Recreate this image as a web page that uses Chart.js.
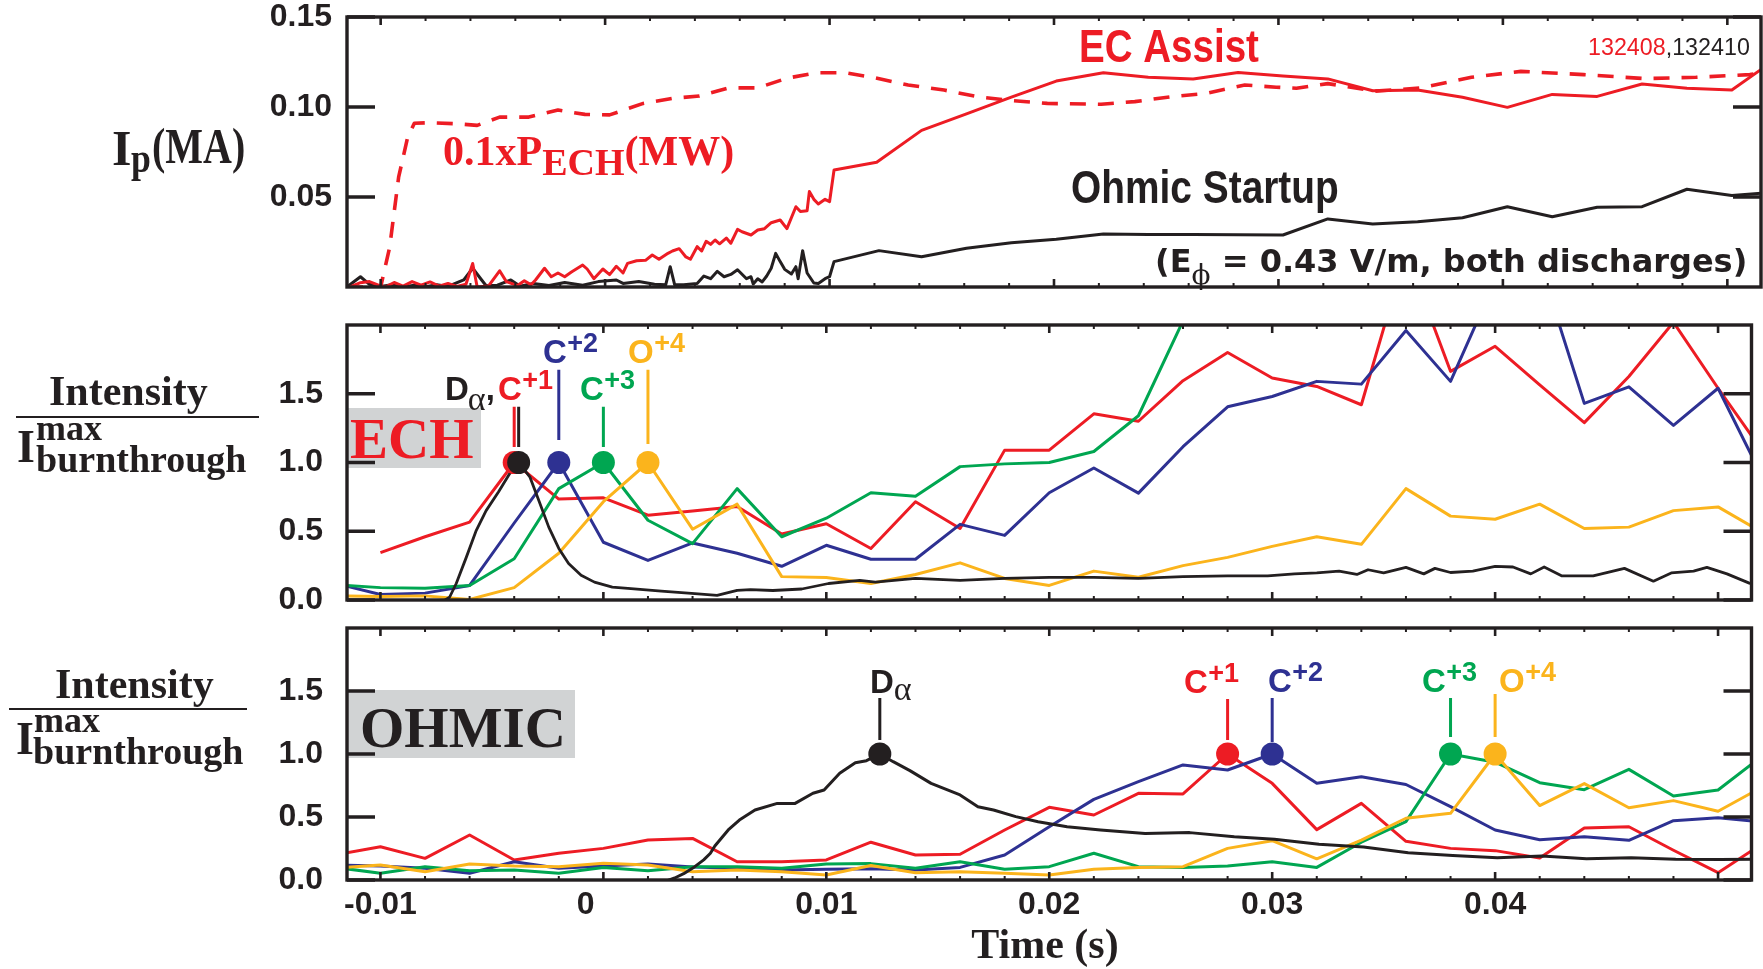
<!DOCTYPE html>
<html>
<head>
<meta charset="utf-8">
<script src="https://cdn.jsdelivr.net/npm/chart.js@4.4.1/dist/chart.umd.min.js"></script>
<style>
  html, body { margin: 0; padding: 0; background: #fff; }
  #wrap { position: relative; width: 1763px; height: 969px; overflow: hidden; background: #fff; }
  #wrap canvas { position: absolute; left: 0; top: 0; }
</style>
</head>
<body>
<div id="wrap">
  <canvas id="cIp" width="1763" height="969"></canvas>
  <canvas id="cEch" width="1763" height="969"></canvas>
  <canvas id="cOhm" width="1763" height="969"></canvas>
</div>
<script>
// ---------------- time axis ----------------
const X_MIN = -0.0115, X_MAX = 0.0515;
const xMajorTicks = [-0.01, 0.00, 0.01, 0.02, 0.03, 0.04, 0.05];
const xTickLabels = ['-0.01', '0', '0.01', '0.02', '0.03', '0.04', ''];

// ---------------- top panel: plasma current (MA) and 0.1 x P_ECH (MW) ----------------
const ipTicks = [0.05, 0.10, 0.15];
const ipTickLabels = ['0.05', '0.10', '0.15'];

// EC-assisted discharge 132408, [t (s), Ip (MA)]
const ipEch = [
  [-0.01136,0.0000],[-0.0109,0.0024],[-0.0105,0.0030],[-0.0101,0.0010],[-0.0098,0.0000],[-0.0094,0.0025],
  [-0.0090,0.0005],[-0.0086,0.0030],[-0.0082,0.0010],[-0.0078,0.0028],[-0.0074,0.0005],[-0.0070,0.0020],
  [-0.0066,0.0003],[-0.0062,0.0015],[-0.0059,0.0131],[-0.0057,0.0000],[-0.0052,0.0005],[-0.0047,0.0090],
  [-0.0044,0.0030],[-0.0039,0.0008],[-0.0036,0.0035],[-0.0033,0.0012],[-0.0031,0.0039],[-0.0027,0.0104],
  [-0.0024,0.0057],[-0.0021,0.0078],[-0.0018,0.0057],[-0.0015,0.0083],[-0.0010,0.0122],[-0.0008,0.0100],
  [-0.0005,0.0046],[-0.0001,0.0100],[0.0002,0.0069],[0.0005,0.0115],[0.0008,0.0078],[0.0010,0.0131],
  [0.0014,0.0146],[0.0018,0.0148],[0.0021,0.0178],[0.0024,0.0154],[0.0028,0.0187],[0.0030,0.0200],
  [0.0033,0.0213],[0.0036,0.0167],[0.0038,0.0154],[0.0041,0.0224],[0.0043,0.0200],[0.0045,0.0254],
  [0.0047,0.0237],[0.0049,0.0261],[0.0051,0.0240],[0.0054,0.0272],[0.0056,0.0243],[0.0059,0.0320],
  [0.0061,0.0307],[0.0065,0.0289],[0.0068,0.0317],[0.0071,0.0324],[0.0074,0.0357],[0.0078,0.0372],
  [0.0081,0.0324],[0.0085,0.0446],[0.0087,0.0419],[0.0090,0.0424],[0.0091,0.0530],[0.0093,0.0487],
  [0.0095,0.0461],[0.0098,0.0487],[0.0100,0.0474],[0.0102,0.0650],[0.0121,0.0693],[0.0141,0.0870],
  [0.0161,0.0962],[0.0181,0.1055],[0.0201,0.1144],[0.0222,0.1190],[0.0242,0.1165],[0.0262,0.1156],
  [0.0282,0.1192],[0.0302,0.1172],[0.0322,0.1156],[0.0342,0.1090],[0.0362,0.1094],[0.0382,0.1054],
  [0.0402,0.0998],[0.0422,0.1070],[0.0442,0.1059],[0.0462,0.1128],[0.0482,0.1104],[0.0502,0.1094],
  [0.0522,0.1270]
];

// Ohmic discharge 132410, [t (s), Ip (MA)]
const ipOhm = [
  [-0.0115,0.0000],[-0.0109,0.0057],[-0.0105,0.0015],[-0.0100,0.0003],[-0.0095,0.0012],[-0.0090,0.0000],
  [-0.0085,0.0010],[-0.0080,0.0002],[-0.0075,0.0012],[-0.0070,0.0003],[-0.0063,0.0039],[-0.0059,0.0104],
  [-0.0055,0.0039],[-0.0053,0.0007],[-0.0048,0.0010],[-0.0042,0.0039],[-0.0038,0.0005],[-0.0032,0.0020],
  [-0.0025,0.0008],[-0.0018,0.0025],[-0.0010,0.0010],[-0.0003,0.0030],[0.0005,0.0039],[0.0008,0.0020],
  [0.0015,0.0030],[0.0022,0.0015],[0.0027,0.0012],[0.0029,0.0113],[0.0031,0.0012],[0.0035,0.0012],
  [0.0041,0.0020],[0.0044,0.0061],[0.0047,0.0046],[0.0050,0.0087],[0.0053,0.0057],[0.0056,0.0070],
  [0.0059,0.0096],[0.0063,0.0046],[0.0065,0.0057],[0.0066,0.0017],[0.0068,0.0046],[0.0070,0.0028],
  [0.0072,0.0061],[0.0074,0.0104],[0.0076,0.0187],[0.0078,0.0141],[0.0080,0.0098],[0.0083,0.0072],
  [0.0085,0.0113],[0.0086,0.0046],[0.0088,0.0202],[0.0090,0.0078],[0.0093,0.0022],[0.0095,0.0020],
  [0.0098,0.0046],[0.0100,0.0057],[0.0102,0.0141],[0.0122,0.0202],[0.0141,0.0168],[0.0161,0.0215],
  [0.0181,0.0246],[0.0201,0.0265],[0.0222,0.0294],[0.0242,0.0292],[0.0262,0.0291],[0.0282,0.0290],
  [0.0302,0.0289],[0.0322,0.0378],[0.0342,0.0350],[0.0362,0.0363],[0.0382,0.0385],[0.0402,0.0446],
  [0.0422,0.0390],[0.0442,0.0443],[0.0462,0.0446],[0.0482,0.0543],[0.0502,0.0508],[0.0522,0.0527]
];

// 0.1 x ECH power (MW), [t (s), value]
const pEch = [
  [-0.0115,0.000],[-0.0100,0.000],[-0.0096,0.022],[-0.0092,0.061],[-0.0088,0.083],[-0.0085,0.091],
  [-0.0078,0.0913],[-0.0065,0.0906],[-0.0057,0.0898],[-0.0047,0.0944],[-0.0034,0.0944],[-0.0021,0.0983],
  [-0.0009,0.0959],[0.0002,0.0956],[0.0017,0.1020],[0.0030,0.1048],[0.0042,0.1061],[0.0055,0.1106],
  [0.0068,0.1106],[0.0081,0.1160],[0.0094,0.1190],[0.0107,0.1190],[0.0119,0.1165],[0.0135,0.1122],
  [0.0151,0.1094],[0.0166,0.1057],[0.0182,0.1035],[0.0197,0.1020],[0.0221,0.1015],[0.0236,0.1030],
  [0.0252,0.1057],[0.0268,0.1076],[0.0285,0.1122],[0.0299,0.1110],[0.0308,0.1104],[0.0322,0.1130],
  [0.0343,0.1088],[0.0363,0.1105],[0.0386,0.1165],[0.0408,0.1198],[0.0436,0.1180],[0.0463,0.1158],
  [0.0486,0.1165],[0.0510,0.1180],[0.0520,0.1195]
];

// ---------------- normalized line intensities (2 ms samples) ----------------
const intTicks = [0.0, 0.5, 1.0, 1.5];
const intTickLabels = ['0.0', '0.5', '1.0', '1.5'];
const lineT = [-0.012,-0.010,-0.008,-0.006,-0.004,-0.002,0.000,0.002,0.004,0.006,0.008,0.010,0.012,
  0.014,0.016,0.018,0.020,0.022,0.024,0.026,0.028,0.030,0.032,0.034,0.036,0.038,0.040,0.042,0.044,
  0.046,0.048,0.050,0.052];

// ECH-assisted discharge
const echC1 = [null,0.345,0.46,0.566,1.0,0.734,0.743,0.617,0.648,0.68,0.48,0.555,0.375,0.714,0.52,1.09,
  1.09,1.354,1.30,1.595,1.80,1.615,1.553,1.42,2.53,1.663,1.845,1.565,1.29,1.626,2.02,1.54,1.08];
const echC2 = [0.12,0.04,0.05,0.106,0.56,1.0,0.42,0.288,0.415,0.34,0.245,0.398,0.296,0.296,0.55,0.47,
  0.78,0.96,0.777,1.115,1.405,1.48,1.59,1.57,1.96,1.59,2.32,2.45,1.43,1.55,1.27,1.54,0.89];
const echC3 = [0.11,0.09,0.085,0.106,0.30,0.81,1.0,0.58,0.41,0.81,0.46,0.595,0.78,0.755,0.97,0.99,
  1.0,1.08,1.34,2.03,null,null,null,null,null,null,null,null,null,null,null,null,null];
const echO4 = [0.03,0.025,0.03,0.004,0.09,0.34,0.715,1.0,0.515,0.697,0.17,0.164,0.12,0.186,0.27,0.157,
  0.106,0.21,0.166,0.25,0.31,0.39,0.46,0.405,0.81,0.61,0.587,0.697,0.52,0.53,0.65,0.677,0.49];
// D-alpha, finer sampling, [t (s), value]
const echDa = [
  [-0.0072,-0.01],[-0.0069,0.02],[-0.0066,0.12],[-0.00615,0.31],[-0.0057,0.507],[-0.00526,0.65],
  [-0.0047,0.787],[-0.0042,0.92],[-0.0038,1.0],[-0.0033,0.896],[-0.0029,0.726],[-0.00245,0.53],
  [-0.0020,0.375],[-0.00156,0.266],[-0.0010,0.18],[-0.0004,0.13],[0.0004,0.093],[0.0011,0.084],
  [0.0026,0.064],[0.0041,0.047],[0.0051,0.033],[0.0060,0.07],[0.0066,0.075],[0.0076,0.069],
  [0.0089,0.08],[0.0101,0.12],[0.0115,0.142],[0.0122,0.13],[0.0140,0.157],[0.0160,0.142],
  [0.0180,0.157],[0.0200,0.164],[0.0220,0.164],[0.0240,0.157],[0.0260,0.17],[0.0280,0.175],
  [0.0298,0.175],[0.0310,0.19],[0.0320,0.197],[0.0330,0.21],[0.0338,0.186],[0.0343,0.22],
  [0.0350,0.197],[0.0360,0.237],[0.0368,0.19],[0.0373,0.23],[0.0380,0.20],[0.0390,0.21],
  [0.0400,0.245],[0.0408,0.24],[0.0416,0.19],[0.0422,0.24],[0.0430,0.175],[0.0444,0.175],
  [0.0458,0.23],[0.0471,0.137],[0.0479,0.197],[0.0489,0.21],[0.0495,0.237],[0.0504,0.19],
  [0.0514,0.123],[0.0520,0.10]
];

// Ohmic discharge
const ohmC1 = [0.20,0.264,0.172,0.357,0.159,0.212,0.251,0.317,0.33,0.145,0.145,0.159,0.30,0.198,0.204,
  0.397,0.577,0.516,0.688,0.683,1.0,0.767,0.40,0.608,0.307,0.251,0.233,0.175,0.413,0.423,0.236,0.058,0.29];
const ohmC2 = [0.12,0.111,0.093,0.053,0.145,0.093,0.111,0.127,0.103,0.093,0.08,0.085,0.09,0.079,0.10,
  0.198,0.423,0.64,0.78,0.913,0.873,1.0,0.767,0.82,0.758,0.582,0.397,0.32,0.344,0.315,0.471,0.494,0.46];
const ohmC3 = [0.10,0.053,0.106,0.074,0.079,0.053,0.10,0.074,0.106,0.106,0.093,0.127,0.13,0.093,0.145,
  0.085,0.106,0.212,0.106,0.10,0.111,0.145,0.10,0.30,0.463,1.0,0.935,0.772,0.717,0.878,0.667,0.714,0.986];
const ohmO4 = [0.095,0.119,0.066,0.127,0.111,0.106,0.132,0.119,0.066,0.079,0.066,0.04,0.115,0.058,0.066,
  0.053,0.04,0.085,0.10,0.106,0.251,0.312,0.168,0.317,0.49,0.529,1.0,0.591,0.765,0.573,0.63,0.546,0.74];
const ohmDa = [
  [0.0028,-0.01],[0.0032,0.016],[0.0036,0.05],[0.0041,0.106],[0.0045,0.16],[0.0048,0.212],[0.0050,0.27],
  [0.0056,0.397],[0.0061,0.476],[0.0068,0.556],[0.0078,0.608],[0.0086,0.608],[0.0094,0.688],[0.0099,0.714],
  [0.0106,0.847],[0.0113,0.931],[0.0118,0.947],[0.0124,1.0],[0.0130,0.939],[0.01375,0.868],[0.0147,0.767],
  [0.0160,0.675],[0.0168,0.582],[0.0175,0.556],[0.0185,0.503],[0.0195,0.463],[0.0208,0.423],[0.0223,0.397],
  [0.0243,0.37],[0.0263,0.376],[0.0283,0.344],[0.0301,0.323],[0.0321,0.284],[0.0341,0.262],[0.0361,0.217],
  [0.0381,0.195],[0.0401,0.176],[0.0421,0.19],[0.0441,0.168],[0.0461,0.176],[0.0481,0.164],[0.0501,0.162],
  [0.0520,0.165]
];

// burn-through peaks (each normalized to 1.0) and their leader lines
const echPeakT  = [-0.004, -0.0038, -0.002, 0.000, 0.002];   // C+1, D-alpha, C+2, C+3, O+4
const echLeadLo = [1.113, 1.113, 1.164, 1.113, 1.135];
const echLeadHi = [1.405, 1.405, 1.675, 1.405, 1.675];
const ohmPeakT  = [0.0124, 0.028, 0.030, 0.038, 0.040];      // D-alpha, C+1, C+2, C+3, O+4
const ohmLeadLo = [1.111, 1.111, 1.095, 1.135, 1.135];
const ohmLeadHi = [1.444, 1.437, 1.444, 1.444, 1.476];

// ---------------- styling ----------------
const RED = '#ed1c24', BLUE = '#2e3192', GREEN = '#00a651', ORANGE = '#fbb41c', INK = '#231f20', BOX = '#d1d3d4';
const SANS = '"Liberation Sans", Arial, Helvetica, sans-serif';
const SERIF = '"Liberation Serif", "Times New Roman", Times, serif';
const WIDE = '"DejaVu Sans", Verdana, sans-serif';
const font = (w, px, fam) => `${w} ${px}px ${fam}`;
const echPeakColor = [RED, INK, BLUE, GREEN, ORANGE];
const ohmPeakColor = [INK, RED, BLUE, GREEN, ORANGE];

const pts = arr => arr.map(([x, y]) => ({ x, y }));
const onGrid = vals => lineT.map((x, i) => ({ x, y: vals[i] }));

function txt(ctx, s, x, y, f, color, sx = 1, align = 'left') {
  ctx.save();
  ctx.font = f; ctx.fillStyle = color; ctx.textAlign = align; ctx.textBaseline = 'alphabetic';
  ctx.translate(x, y); ctx.scale(sx, 1); ctx.fillText(s, 0, 0);
  const w = ctx.measureText(s).width * sx;
  ctx.restore();
  return x + w;
}
function ion(ctx, base, sup, x, y, color, size = 33) {
  const xe = txt(ctx, base, x, y, font('bold', size, SANS), color);
  txt(ctx, sup, xe + 0.5, y - 11, font('bold', 27, SANS), color);
}
function rule(ctx, x0, x1, y) {
  ctx.save(); ctx.strokeStyle = INK; ctx.lineWidth = 2.2;
  ctx.beginPath(); ctx.moveTo(x0, y); ctx.lineTo(x1, y); ctx.stroke(); ctx.restore();
}
// keep the plot frame exactly where the layout padding puts it
function noOverhang(s) { s.paddingTop = 0; s.paddingBottom = 0; s.paddingLeft = 0; s.paddingRight = 0; }

// frame with inward ticks on all four sides, plus panel decorations
function framePlugin(yTicks, boxes, labels) {
  return {
    id: 'frame',
    beforeDatasetsDraw(chart) {
      const ctx = chart.ctx;
      ctx.save(); ctx.fillStyle = BOX;
      boxes.forEach(b => ctx.fillRect(b[0], b[1], b[2], b[3]));
      ctx.restore();
    },
    afterDatasetsDraw(chart) {
      const { ctx, chartArea: a, scales: { x, y } } = chart;
      ctx.save();
      ctx.strokeStyle = INK; ctx.lineCap = 'butt';
      ctx.lineWidth = 2;
      ctx.beginPath();
      for (let k = -5; k <= 25; k++) {
        const t = k * 0.002;
        if (k % 5 === 0 || t < X_MIN || t > X_MAX) continue;
        const px = x.getPixelForValue(t);
        ctx.moveTo(px, a.top); ctx.lineTo(px, a.top + 4);
        ctx.moveTo(px, a.bottom); ctx.lineTo(px, a.bottom - 4);
      }
      ctx.stroke();
      ctx.lineWidth = 2.6;
      ctx.beginPath();
      xMajorTicks.forEach(t => {
        const px = x.getPixelForValue(t);
        ctx.moveTo(px, a.top); ctx.lineTo(px, a.top + 8);
        ctx.moveTo(px, a.bottom); ctx.lineTo(px, a.bottom - 8);
      });
      ctx.stroke();
      ctx.lineWidth = 3.5;
      ctx.beginPath();
      yTicks.forEach(v => {
        const py = y.getPixelForValue(v);
        ctx.moveTo(a.left, py); ctx.lineTo(a.left + 28, py);
        ctx.moveTo(a.right, py); ctx.lineTo(a.right - 28, py);
      });
      ctx.stroke();
      ctx.lineWidth = 3.4;
      ctx.strokeRect(a.left, a.top, a.right - a.left, a.bottom - a.top);
      ctx.restore();
    },
    afterDraw(chart) { labels(chart.ctx); }
  };
}

function makePanel(id, o) {
  return new Chart(document.getElementById(id), {
    type: 'line',
    data: { datasets: o.datasets },
    options: {
      responsive: false, animation: false, events: [], devicePixelRatio: 1,
      layout: { padding: { top: o.top, bottom: o.padBottom, left: 0, right: 2 } },
      plugins: { legend: { display: false }, tooltip: { enabled: false } },
      elements: {
        line: { tension: 0, fill: false, borderJoinStyle: 'round', borderCapStyle: 'butt' },
        point: { radius: 0 }
      },
      scales: {
        x: {
          type: 'linear', min: X_MIN, max: X_MAX,
          grid: { display: false, drawTicks: false }, border: { display: false },
          afterBuildTicks: s => { s.ticks = xMajorTicks.map(v => ({ value: v })); },
          afterFit: s => { s.height = o.xAxisH; noOverhang(s); },
          ticks: {
            display: o.showX, autoSkip: false, maxRotation: 0, padding: 9, color: INK,
            font: { family: SANS, size: 32, weight: 'bold', lineHeight: 1 },
            // the zero label sits a little left of its tick
            callback: (v, i) => xTickLabels[i] === '0' ? '0    ' : xTickLabels[i]
          }
        },
        y: {
          type: 'linear', min: o.yMin, max: o.yMax,
          grid: { display: false, drawTicks: false }, border: { display: false },
          afterBuildTicks: s => { s.ticks = o.yTicks.map(v => ({ value: v })); },
          afterFit: s => { s.width = 347; noOverhang(s); },
          ticks: {
            autoSkip: false, crossAlign: 'center', padding: o.yPad, color: INK,
            font: { family: SANS, size: 32, weight: 'bold', lineHeight: 1 },
            callback: (v, i) => o.yLabels[i]
          }
        }
      }
    },
    plugins: [framePlugin(o.yTicks, o.boxes, o.labels)]
  });
}

function peakSets(peakT, colors, lo, hi) {
  const sets = [{
    data: peakT.map(x => ({ x, y: 1.0 })), showLine: false, order: 0,
    pointRadius: 11.5, pointHoverRadius: 11.5, pointBorderWidth: 0,
    pointBackgroundColor: colors, pointBorderColor: colors
  }];
  peakT.forEach((t, i) => sets.push({
    data: [{ x: t, y: lo[i] }, { x: t, y: hi[i] }], borderColor: colors[i], borderWidth: 3, order: 1
  }));
  return sets;
}

// ---------------- top panel ----------------
makePanel('cIp', {
  top: 17, padBottom: 969 - 287, xAxisH: 0, showX: false,
  yMin: 0, yMax: 0.15, yTicks: ipTicks, yLabels: ipTickLabels, yPad: 15, boxes: [],
  datasets: [
    { data: pts(ipOhm), borderColor: INK, borderWidth: 3, order: 3 },
    { data: pts(ipEch), borderColor: RED, borderWidth: 3, order: 2 },
    { data: pts(pEch), borderColor: RED, borderWidth: 3.6, borderDash: [16, 12], order: 4 }
  ],
  labels: ctx => {
    txt(ctx, 'I', 112, 165, font('bold', 50, SERIF), INK);
    txt(ctx, 'p', 131, 172, font('bold', 42, SERIF), INK, 0.85);
    txt(ctx, '(MA)', 152, 163, font('bold', 50, SERIF), INK, 0.8);
    let xx = txt(ctx, '0.1xP', 443, 165, font('bold', 42, SERIF), RED);
    xx = txt(ctx, 'ECH', xx, 175, font('bold', 38, SERIF), RED);
    txt(ctx, '(MW)', xx, 165, font('bold', 42, SERIF), RED);
    txt(ctx, 'EC Assist', 1079, 62, font('bold', 47, SANS), RED, 0.82);
    xx = txt(ctx, '132408', 1588, 55, font('normal', 24, SANS), RED, 0.97);
    txt(ctx, ',132410', xx, 55, font('normal', 24, SANS), INK, 0.97);
    txt(ctx, 'Ohmic Startup', 1071, 203, font('bold', 46, SANS), INK, 0.845);
    xx = txt(ctx, '(E', 1155, 272, font('bold', 32, WIDE), INK);
    xx = txt(ctx, '\u03D5', xx, 284, font('normal', 28, '"DejaVu Serif", serif'), INK);
    txt(ctx, ' = 0.43 V/m, both discharges)', xx, 272, font('bold', 32, WIDE), INK);
  }
});

// ---------------- middle panel: ECH assisted ----------------
makePanel('cEch', {
  top: 325, padBottom: 969 - 600, xAxisH: 0, showX: false,
  yMin: 0, yMax: 2.0, yTicks: intTicks, yLabels: intTickLabels, yPad: 24,
  boxes: [[347, 408, 134, 60]],
  datasets: [
    ...peakSets(echPeakT, echPeakColor, echLeadLo, echLeadHi),
    { data: pts(echDa), borderColor: INK, borderWidth: 2.8, order: 2 },
    { data: onGrid(echO4), borderColor: ORANGE, borderWidth: 3, order: 3 },
    { data: onGrid(echC3), borderColor: GREEN, borderWidth: 3, order: 4 },
    { data: onGrid(echC2), borderColor: BLUE, borderWidth: 3, order: 5 },
    { data: onGrid(echC1), borderColor: RED, borderWidth: 3, order: 6 }
  ],
  labels: ctx => {
    txt(ctx, 'Intensity', 49, 405, font('bold', 42, SERIF), INK);
    rule(ctx, 16, 259, 417);
    txt(ctx, 'I', 17, 462, font('bold', 46, SERIF), INK);
    txt(ctx, 'max', 36, 440, font('bold', 36, SERIF), INK);
    txt(ctx, 'burnthrough', 36, 472, font('bold', 38, SERIF), INK);
    txt(ctx, 'ECH', 350, 458, font('bold', 57, SERIF), RED);
    let xx = txt(ctx, 'D', 445, 400, font('bold', 33, SANS), INK);
    xx = txt(ctx, '\u03B1', xx - 1, 410, font('normal', 34, SERIF), INK);
    txt(ctx, ',', xx, 400, font('bold', 33, SANS), INK);
    ion(ctx, 'C', '+1', 498, 400, RED);
    ion(ctx, 'C', '+2', 543, 363, BLUE);
    ion(ctx, 'C', '+3', 580, 400, GREEN);
    ion(ctx, 'O', '+4', 628, 363, ORANGE);
  }
});

// ---------------- bottom panel: Ohmic ----------------
makePanel('cOhm', {
  top: 628, padBottom: 0, xAxisH: 969 - 880, showX: true,
  yMin: 0, yMax: 2.0, yTicks: intTicks, yLabels: intTickLabels, yPad: 24,
  boxes: [[347, 690, 228, 68]],
  datasets: [
    ...peakSets(ohmPeakT, ohmPeakColor, ohmLeadLo, ohmLeadHi),
    { data: pts(ohmDa), borderColor: INK, borderWidth: 3, order: 2 },
    { data: onGrid(ohmO4), borderColor: ORANGE, borderWidth: 3, order: 3 },
    { data: onGrid(ohmC3), borderColor: GREEN, borderWidth: 3, order: 4 },
    { data: onGrid(ohmC2), borderColor: BLUE, borderWidth: 3, order: 5 },
    { data: onGrid(ohmC1), borderColor: RED, borderWidth: 3, order: 6 }
  ],
  labels: ctx => {
    txt(ctx, 'Intensity', 55, 698, font('bold', 42, SERIF), INK);
    rule(ctx, 9, 247, 709);
    txt(ctx, 'I', 16, 754, font('bold', 46, SERIF), INK);
    txt(ctx, 'max', 34, 732, font('bold', 36, SERIF), INK);
    txt(ctx, 'burnthrough', 33, 764, font('bold', 38, SERIF), INK);
    txt(ctx, 'OHMIC', 360, 747, font('bold', 57, SERIF), INK);
    const xx = txt(ctx, 'D', 870, 693, font('bold', 33, SANS), INK);
    txt(ctx, '\u03B1', xx, 700, font('normal', 34, SERIF), INK);
    ion(ctx, 'C', '+1', 1184, 693, RED);
    ion(ctx, 'C', '+2', 1268, 692, BLUE);
    ion(ctx, 'C', '+3', 1422, 692, GREEN);
    ion(ctx, 'O', '+4', 1499, 692, ORANGE);
    txt(ctx, 'Time (s)', 1045, 958, font('bold', 42, SERIF), INK, 1, 'center');
  }
});
</script>
</body>
</html>
